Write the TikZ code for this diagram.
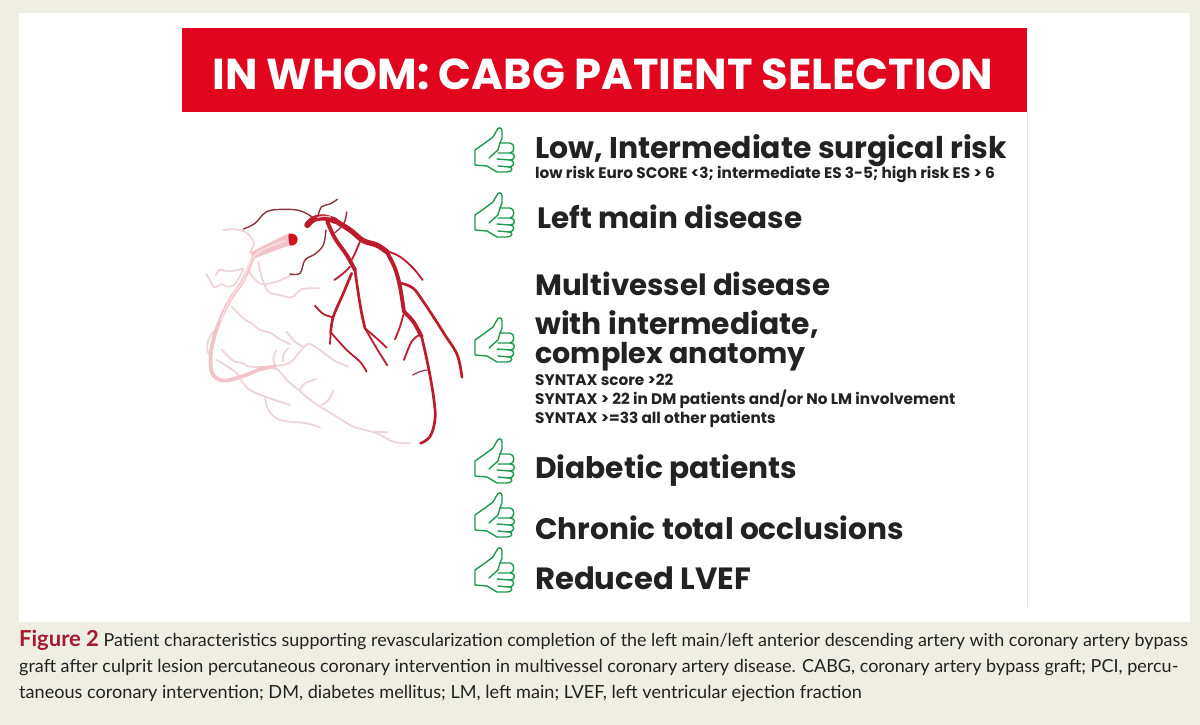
\documentclass[tikz,border=0pt]{standalone}
\usepackage{fontspec}
\setmainfont{Lato}
\newfontfamily\headfont{Poppins}
\definecolor{pagebg}{HTML}{EEEEE2}
\definecolor{bannerred}{HTML}{E2051E}
\definecolor{figred}{HTML}{A6192E}
\definecolor{thumbgreen}{HTML}{1E9A50}
\definecolor{inkdark}{HTML}{222222}
\definecolor{art}{HTML}{BC1C2C}
\definecolor{artdark}{HTML}{8E3440}
\definecolor{artpale}{HTML}{F2C4CA}
\definecolor{artlight}{HTML}{FAE3E5}
\definecolor{artpaler}{HTML}{EDD5D7}
\tikzset{
  big/.style={anchor=base west,inner sep=0pt,font=\headfont\fontsize{#1}{29}\selectfont\bfseries,text=inkdark,align=left},
  small/.style={anchor=base west,inner sep=0pt,font=\headfont\fontsize{15.3}{19}\selectfont\bfseries,text=inkdark,align=left},
  captext/.style={anchor=base west,inner sep=0pt,font=\fontsize{#1}{26}\selectfont,text=inkdark},
  vess/.style={line cap=round,line join=round,smooth,tension=.6},
  red1/.style={draw=art,line width=1.8pt,vess},
  red2/.style={draw=art,line width=2.7pt,vess},
  red3/.style={draw=art,line width=3.9pt,vess},
  red4/.style={draw=art,line width=5.2pt,vess},
  dark1/.style={draw=artdark,line width=1.4pt,vess},
  pale1/.style={draw=artpaler,line width=1.8pt,vess},
  pale2/.style={draw=artpale,line width=3.8pt,vess},
  thumbline/.style={draw=thumbgreen,line width=1.4pt,line join=round,line cap=round},
  thumb/.pic={
    \path[thumbline] (-20,-6) -- (-10,-13) -- (-2,-19) -- (2,-26) .. controls (3,-29) and (7,-29) .. (7,-25) -- (7,-18) -- (5,-13)
      -- (15,-13) .. controls (20,-13) and (20,-3) .. (15,-3) .. controls (21,-3) and (21,4) .. (15,4) .. controls (20,4) and (20,11) .. (14,11) .. controls (18,11) and (18,16) .. (12,16) -- (2,16) -- (-8,10) -- (-20,9) -- cycle;
    \path[thumbline] (5,-13) -- (3,-6) -- (-6,2);
    \path[thumbline] (15,-3) -- (3,-3) (15,4) -- (2,3) (14,11) -- (3,10);
  }
}
\begin{document}
\begin{tikzpicture}[x=1pt,y=-1pt]
\useasboundingbox (0,0) rectangle (1200,725);
\fill[pagebg] (0,0) rectangle (1200,725);
\fill[white] (19,13) rectangle (1190,622);
\draw[black!10,line width=0.8pt] (1027,112) -- (1027,607);
\fill[bannerred] (182,28) rectangle (1027,112);
\node[anchor=base,inner sep=0pt,text=white,font=\headfont\fontsize{43.2}{48}\selectfont\bfseries] (title) at (603,89) {IN WHOM: CABG PATIENT SELECTION};

% heart
\begin{scope}[shift={(180,180)},x=0.3333pt,y=-0.3333pt]
 % pale vessels
 \draw[pale1] plot coordinates {(130,150) (165,148) (195,155) (215,175) (222,192) (210,218)};
 \draw[pale1] plot coordinates {(78,282) (90,300) (103,322) (125,312) (140,320) (165,312) (190,268)};
 \draw[pale1] plot coordinates {(108,285) (120,270) (150,274) (190,265)};
 \draw[pale1] plot coordinates {(235,245) (245,290) (265,335) (300,345) (335,352) (365,328) (418,325)};
 \draw[pale1] plot coordinates {(205,270) (222,295) (245,312) (290,305) (340,282)};
 \draw[pale1] plot coordinates {(155,380) (190,415) (215,430) (240,450) (270,458) (300,478) (330,492)};
 \draw[pale1] plot coordinates {(320,455) (345,485) (370,500)};
 \draw[pale1] plot coordinates {(285,558) (330,548) (360,515) (385,492) (420,510) (460,540) (505,560)};
 \draw[pale1] plot coordinates {(285,555) (280,535) (288,512)};
 \draw[pale1] plot coordinates {(308,545) (312,520) (325,505)};
 \draw[pale1] plot coordinates {(125,508) (145,530) (165,545) (190,550) (210,560) (285,565) (320,600) (350,625) (385,655) (420,680) (470,710) (520,740) (590,760) (640,785) (690,790)};
 \draw[pale1] plot coordinates {(360,630) (375,610) (410,597)};
 \draw[pale1] plot coordinates {(425,675) (445,660) (460,632)};
 \draw[pale1] plot coordinates {(585,755) (622,757)};
 \draw[pale1] plot coordinates {(110,540) (165,575) (190,610) (210,630) (255,650) (330,675)};
 \draw[pale1] plot coordinates {(255,650) (265,690) (300,720) (380,730) (420,742)};
 \draw[pale1] plot coordinates {(100,455) (85,480) (82,510) (92,530)};
 \fill[artpale] (322,162) -- (330,196) -- (295,208) -- (225,235) -- (210,218) -- (285,180) -- cycle;
 \draw[pale2] plot coordinates {(222,225) (190,300) (150,360) (120,420) (100,480) (92,530) (97,580) (130,602) (190,588) (240,568) (285,560)};
 \draw[draw=artlight,line width=1.2pt,vess] plot coordinates {(315,182) (225,225) (190,300) (150,360) (122,420)};
 % red stump
 \fill[art!70!red] (326,161) .. controls (345,158) and (355,170) .. (353,180) .. controls (352,192) and (340,198) .. (330,197) .. controls (326,185) and (324,172) .. (326,161) -- cycle;
 % darker branches upper left
 \draw[dark1] plot coordinates {(190,147) (225,130) (260,95) (310,88) (360,92) (395,110)};
 \draw[dark1] plot coordinates {(415,105) (425,80) (450,72) (472,58)};
 \draw[dark1] plot coordinates {(438,150) (430,195) (405,222) (375,240) (360,280) (330,282)};
 \draw[dark1] plot coordinates {(500,96) (492,130) (465,158)};
 % LAD system
 \draw[red1] plot coordinates {(618,212) (660,230) (700,265) (728,300)};
 \draw[red2] plot coordinates {(665,310) (700,325) (730,365) (760,410) (795,465) (832,525) (846,592)};
 \draw[red1] plot coordinates {(670,405) (660,440) (645,478)};
 \draw[red1] plot coordinates {(718,465) (695,485) (672,540)};
 \draw[draw=artdark,line width=1.2pt,vess] plot coordinates {(742,570) (720,575) (698,585)};
 \draw[red2] plot coordinates {(725,470) (745,560) (762,660) (765,720) (750,770) (722,790)};
 \draw[red3] plot coordinates {(672,395) (700,425) (725,470)};
 \draw[red3] plot coordinates {(620,215) (645,265) (660,320) (672,395)};
 \draw[red4] plot coordinates {(465,122) (510,150) (550,182) (590,195) (620,215)};
 % diagonal
 \draw[red2] plot coordinates {(515,280) (490,340) (460,410) (452,460)};
 \draw[red1] plot coordinates {(452,460) (450,492)};
 \draw[red2] plot coordinates {(525,270) (535,340) (545,400) (555,445)};
 \draw[red1] plot coordinates {(555,445) (590,505) (622,556)};
 \draw[red1] plot coordinates {(555,445) (590,475) (620,503)};
 \draw[red1] plot coordinates {(455,460) (500,510) (540,545) (560,575)};
 \draw[red1] plot coordinates {(405,377) (430,402) (460,412)};
 \draw[red1] plot coordinates {(510,260) (490,280) (463,300)};
 \draw[red1] plot coordinates {(540,185) (525,220) (515,240)};
 \draw[red3] plot coordinates {(442,125) (465,175) (500,225) (525,270)};
 \draw[red4,line width=6.2pt] plot coordinates {(382,135) (400,118) (430,112) (465,122)};
 \draw[draw=artpale,line width=1.2pt,vess] plot coordinates {(412,113) (430,109) (452,111)};
\end{scope}

% thumbs
\foreach \n/\y in {1/156,2/221,3/346,4/467,5/521,6/576}{
  \pic at (495,\y) {thumb};
}

% texts
\node[big=29.9] (t1) at (535,158) {Low, Intermediate surgical risk};
\node[small] (s1) at (535,178) {low risk Euro SCORE <3; intermediate ES 3-5; high risk ES > 6};
\node[big=29.5] (t2) at (537,228) {Left main disease};
\node[big=29.3] (t3) at (535,295) {Multivessel disease};
\node[big=29.8] (t4) at (535,334) {with intermediate,};
\node[big=28.6] (t4b) at (535,363) {complex anatomy};
\node[small] (s4a) at (535,385) {SYNTAX score >22};
\node[small] (s4b) at (535,404) {SYNTAX > 22 in DM patients and/or No LM involvement};
\node[small] (s4c) at (535,423) {SYNTAX >=33 all other patients};
\node[big=29.7] (t5) at (535,478) {Diabetic patients};
\node[big=29.6] (t6) at (535,539) {Chronic total occlusions};
\node[big=30.7] (t7) at (535,589) {Reduced LVEF};

% caption
\node[captext=17.9] (c1) at (19,646) {{\color{figred}\fontsize{22}{26}\selectfont\bfseries Figure 2} Patient characteristics supporting revascularization completion of the left main/left anterior descending artery with coronary artery bypass};
\node[captext=18] (c2) at (19,672) {graft after culprit lesion percutaneous coronary intervention in multivessel coronary artery disease. CABG, coronary artery bypass graft; PCI, percu-};
\node[captext=18.1] (c3) at (19,698) {taneous coronary intervention; DM, diabetes mellitus; LM, left main; LVEF, left ventricular ejection fraction};
\end{tikzpicture}
\end{document}
